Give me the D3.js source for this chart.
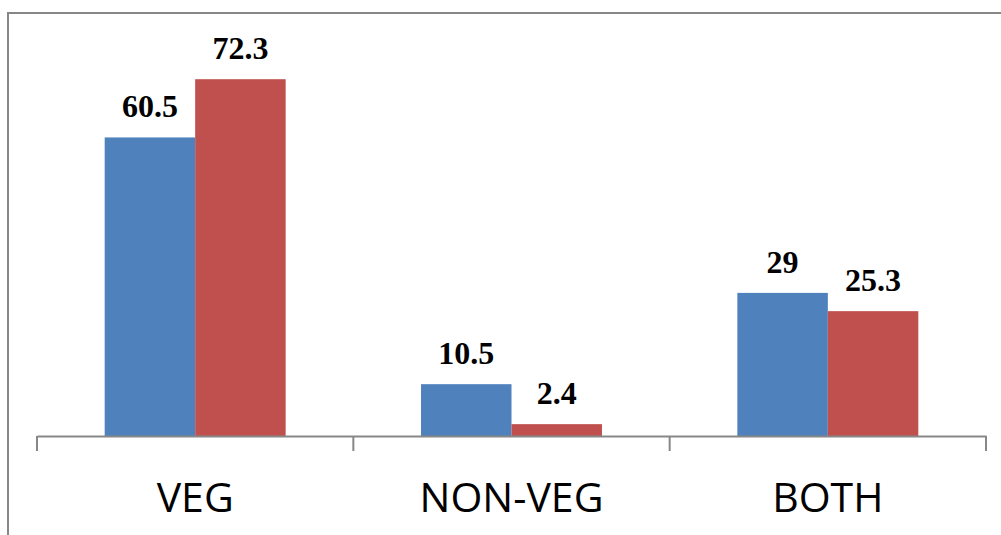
<!DOCTYPE html>
<html><head><meta charset="utf-8">
<script src="https://cdn.jsdelivr.net/npm/d3@7"></script>
<style>html,body{margin:0;padding:0;background:#fff;overflow:hidden}</style>
</head><body>
<svg id="chart" width="1001" height="535"></svg>
<script>
const categories = ["VEG", "NON-VEG", "BOTH"];
const seriesA = [60.5, 10.5, 29];
const seriesB = [72.3, 2.4, 25.3];
const seriesNames = ["A", "B"];
const colors = ["#4F81BD", "#C0504D"];

const svg = d3.select("#chart");
// outer chart border
svg.append("rect").attr("x", 8).attr("y", 13).attr("width", 1100).attr("height", 700)
  .attr("fill", "#fff").attr("stroke", "#878787").attr("stroke-width", 2);

const x = d3.scaleBand().domain(categories).range([37, 986]).paddingInner(0).paddingOuter(0);
const y = d3.scaleLinear().domain([0, 80]).range([436, 41.2]);
const inner = d3.scaleBand().domain(seriesNames).range([0, x.bandwidth()]).paddingInner(0).paddingOuter(0.748);

const data = categories.map((c, i) => ({cat: c, vals: [seriesA[i], seriesB[i]]}));

const g = svg.append("g");
data.forEach(d => {
  d.vals.forEach((v, j) => {
    const bx = x(d.cat) + inner(seriesNames[j]);
    g.append("rect").attr("x", bx).attr("y", y(v))
      .attr("width", inner.bandwidth()).attr("height", y(0) - y(v))
      .attr("fill", colors[j]);
    g.append("text").attr("x", bx + inner.bandwidth() / 2).attr("y", y(v) - 20)
      .attr("text-anchor", "middle")
      .attr("font-family", "Liberation Serif, Times New Roman, serif")
      .attr("font-weight", "bold").attr("font-size", 32).attr("fill", "#000")
      .text(v);
  });
});

// x axis
const axis = d3.axisBottom(x).tickSize(0).tickFormat(d => d);
const ag = svg.append("g").attr("transform", `translate(0,${y(0)})`).call(axis);
ag.select(".domain").attr("stroke", "#878787").attr("stroke-width", 2);
ag.selectAll(".tick text").attr("font-family", "Open Sans, Arial, sans-serif")
  .attr("font-size", 41).attr("fill", "#000").attr("dy", 0).attr("y", 76);
// boundary tick marks
const bounds = categories.map(c => x(c)).concat([x.range()[1]]);
svg.append("g").selectAll("line").data(bounds).join("line")
  .attr("x1", d => d).attr("x2", d => d).attr("y1", y(0)).attr("y2", y(0) + 15)
  .attr("stroke", "#878787").attr("stroke-width", 2);
</script>
</body></html>
